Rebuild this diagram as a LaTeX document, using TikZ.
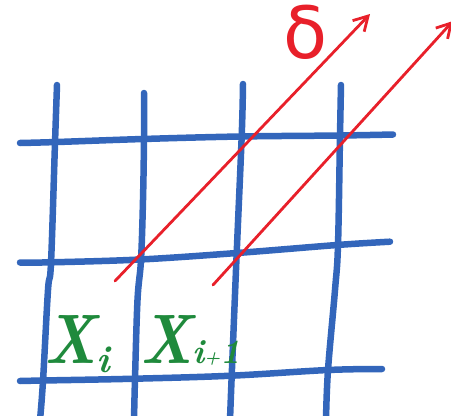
\documentclass[tikz,border=0pt]{standalone}
\usepackage{fontspec}
\usepackage{graphicx}
\newfontfamily\deltafont{DejaVu Sans}
\usetikzlibrary{arrows.meta}
\definecolor{gridblue}{HTML}{3366BB}
\definecolor{arrred}{HTML}{E8202A}
\definecolor{labgreen}{HTML}{1F8A3C}
\newcommand{\bigX}{\scalebox{0.86}[1]{\fontsize{70}{70}\selectfont\itshape\bfseries X}}
\newcommand{\subsz}{\fontsize{38}{38}\selectfont\itshape\bfseries}
\newcommand{\subsm}{\fontsize{34}{34}\selectfont\itshape\bfseries}
\begin{document}
\begin{tikzpicture}[x=1pt,y=-1pt,
  gridline/.style={draw=gridblue,line width=6.5pt,line cap=round,line join=round},
  redarrow/.style={draw=arrred,line width=2.8pt,line cap=round,-{Straight Barb[length=14pt,width=16pt,line width=2.8pt]}},
  lab/.style={text=labgreen,inner sep=0pt,anchor=base west},
  deltalab/.style={text=arrred,inner sep=0pt,font=\fontsize{72}{72}\selectfont\deltafont}]
\useasboundingbox (0,0) rectangle (451,416);
% horizontal lines
\draw[gridline] plot[smooth,tension=0.6] coordinates {(20,143) (57,142) (143,139) (240,136.5) (340,135.5) (393,134.5)};
\draw[gridline] plot[smooth,tension=0.6] coordinates {(20,262.5) (52,262.3) (140,259.5) (237,253) (337,245) (390,241.7)};
\draw[gridline] plot[smooth,tension=0.6] coordinates {(20,381) (43,380.5) (135,378.7) (231,375.7) (328,370) (382,369)};
% vertical lines
\draw[gridline] plot[smooth,tension=0.6] coordinates {(57,85) (55,143) (51,263) (48,290) (43,381) (40,420)};
\draw[gridline] plot[smooth,tension=0.6] coordinates {(144,93) (144,139) (143,200) (141,260) (137.5,300) (135,379) (134,420)};
\draw[gridline] plot[smooth,tension=0.6] coordinates {(243,84) (241.7,136) (236.7,253) (231.7,376) (230,420)};
\draw[gridline] plot[smooth,tension=0.6] coordinates {(341,85) (340,136) (338,245) (335,290) (328,370) (326,420)};
% arrows
\coordinate (a1s) at (115,281);
\coordinate (a1e) at (370,14);
\coordinate (a2s) at (213,285);
\coordinate (a2e) at (453,21);
\draw[redarrow] (a1s) -- (a1e);
\draw[redarrow] (a2s) -- (a2e);
% labels
\node[deltalab] (delta) at (306,32) {δ};
\node[lab] (xi) at (44,363) {\bigX\raisebox{-9pt}{\subsz i}};
\node[lab] (xip) at (140,363) {\bigX{\subsm i{\fontsize{18}{18}\selectfont\bfseries +}1}};
\end{tikzpicture}
\end{document}
